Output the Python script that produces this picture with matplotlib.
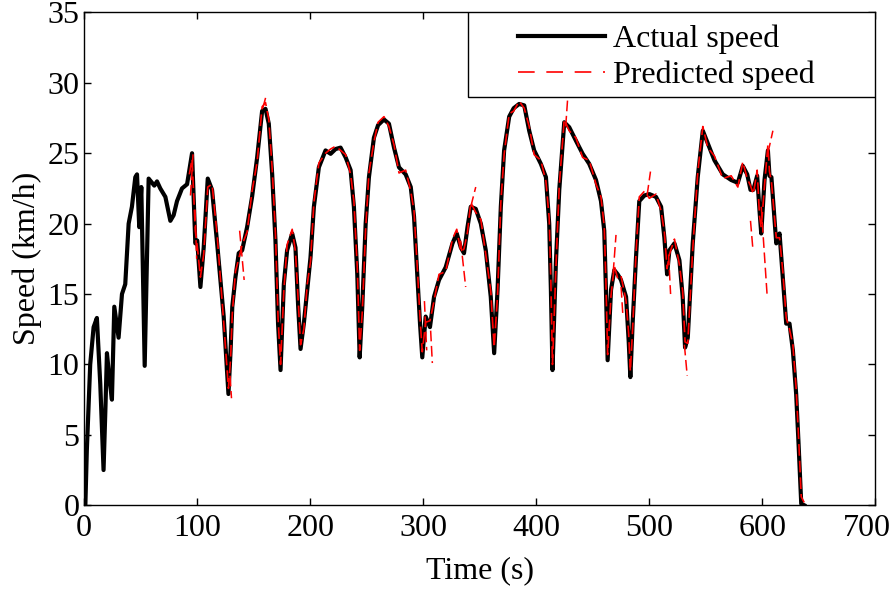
import numpy as np
import matplotlib
matplotlib.use('Agg')
import matplotlib.pyplot as plt
import matplotlib.transforms as mtrans
from matplotlib.patches import Rectangle

plt.rcParams['font.family'] = ['Liberation Serif', 'DejaVu Serif']
plt.rcParams['font.size'] = 23

# actual speed
actual_t = [1, 2.3, 5.3, 8.3, 11.2, 14.2, 17.1, 18.8, 20.1, 22.3, 24.5, 26.6, 28.5, 30.4,
            33.4, 36.3, 39.3, 42.2, 45.2, 46.7, 48.7, 50.5, 53.5, 57, 60, 62, 64.4, 67.3,
            71.8, 76.2, 79.1, 82.1, 86.5, 91, 95.4, 98.3, 100, 102.8, 105.7, 109.3, 113.1,
            117.6, 123.4, 127.6, 129.5, 131, 133.8, 136.7, 139.7, 144.1, 148.5, 153, 157.4,
            160.4, 163.3, 166.3, 169.2, 171.5, 173.7, 176.6, 179.5, 184, 186.9, 189.3, 191.4,
            194.3, 197.3, 200.2, 203.2, 207.6, 213.5, 218, 222.4, 226.8, 231.3, 235.7, 238.6,
            241.6, 243.7, 246, 249, 251.9, 256.3, 260, 265.2, 269.6, 274.1, 278.5, 284.4,
            288.9, 291.8, 294.7, 297.1, 299.1, 302.1, 305.9, 309.5, 313.9, 319.8, 325.8,
            329.6, 333.2, 336, 339.1, 342, 346.4, 350.9, 355.3, 359.7, 362.7, 365.7, 368.6,
            371.5, 376, 380, 384.8, 389.3, 393.7, 398.1, 404, 408.5, 411.4, 412.9, 414.3,
            417.3, 420.3, 424.7, 429.1, 435, 441, 446.8, 452.8, 457.2, 460.1, 461.6, 463.1,
            466.1, 469, 472, 474.9, 479.4, 481.7, 483.2, 485.2, 488.2, 491.1, 495.6, 500,
            505.9, 510.4, 513.3, 515.7, 517.7, 522.2, 526.6, 529.5, 531.6, 534, 538.4, 542.8,
            547.3, 551.7, 557.6, 565, 572.4, 578.3, 582.7, 586.6, 589.5, 592, 595.4, 597.5,
            599, 601.9, 604.9, 606.3, 608, 612.3, 615.2, 618.1, 621.1, 624, 627, 629.9, 632,
            634.4, 637]
actual_v = [0, 3.9, 10, 12.65, 13.3, 8.6, 2.5, 7, 10.8, 9, 7.5, 14.1, 13, 11.9,
            15.0, 15.7, 20.0, 21.2, 23.3, 23.5, 19.75, 22.6, 9.9, 23.2, 22.9, 22.7, 23.0, 22.5,
            21.9, 20.2, 20.6, 21.6, 22.5, 22.8, 25.0, 18.6, 18.8, 15.5, 18.3, 23.2, 22.4,
            18.6, 13.4, 7.9, 11, 14.1, 16.2, 17.9, 18.1, 19.75, 21.9, 24.7, 28.0,
            28.15, 27.1, 23.5, 18.8, 12.9, 9.6, 15.7, 18.1, 19.3, 18.3, 14.1, 11.1,
            12.9, 15.3, 17.6, 21.2, 24.0, 25.2, 24.96, 25.3, 25.4, 24.7, 23.8, 21.2,
            16.4, 10.5, 14.1, 20.0, 23.3, 26.1, 27.0, 27.4, 27.1, 25.4, 24.0, 23.5,
            22.6, 20.5, 16.4, 12.9, 10.5, 13.4, 12.65, 14.8, 16.0, 16.9, 18.6,
            19.3, 18.3, 17.9, 19.75, 21.2, 21.05, 20.0, 18.1, 14.8, 10.8, 15.3, 21.2,
            25.2, 27.6, 28.2, 28.5, 28.4, 26.6, 25.2, 24.25, 23.3, 20.0, 15.3, 9.6,
            17.2, 22.4, 27.2, 26.85, 25.9, 24.96, 24.25, 23.1, 21.6, 19.5, 15.3, 10.3,
            15.3, 16.7, 16.4, 16.0, 14.8, 11.7, 9.1, 12.9, 17.6, 21.6, 22.0, 22.1,
            21.9, 21.2, 19.0, 16.4, 18.1, 18.6, 17.4, 14.8, 11.2, 11.9, 18.6, 23.3,
            26.6, 25.7, 24.5, 23.5, 23.1, 22.9, 24.1, 23.5, 22.4, 22.4, 23.4, 20.9,
            19.3, 23.1, 25.2, 23.4, 23.3, 18.6, 19.3, 16.2, 12.9, 12.9, 11.0, 7.9, 4.4,
            0.1, 0]

# predicted speed
pred_t = [93, 95.4, 98.3, 100, 102.8, 105.7, 109.3, 113.1, 117.6, 123.4, 127.6, 129.5, 131,
          133.8, 136.7, 139.7, 144.1, 148.5, 153, 157.4, 160.4, 163.3, 166.3, 169.2, 171.5,
          173.7, 176.6, 179.5, 184, 186.9, 189.3, 191.4, 194.3, 197.3, 200.2, 203.2, 207.6,
          213.5, 218, 222.4, 226.8, 231.3, 235.7, 238.6, 241.6, 243.7, 246, 249, 251.9,
          256.3, 260, 265.2, 269.6, 274.1, 278.5, 284.4, 288.9, 291.8, 294.7, 297.1, 299.1,
          302.1, 305.9, 309.5, 313.9, 319.8, 325.8, 329.6, 333.2, 336, 339.1, 342, 346.4,
          350.9, 355.3, 359.7, 362.7, 365.7, 368.6, 371.5, 376, 380, 384.8, 389.3, 393.7,
          398.1, 404, 408.5, 411.4, 412.9, 414.3, 417.3, 420.3, 424.7, 429.1, 435, 441,
          446.8, 452.8, 457.2, 460.1, 461.6, 463.1, 466.1, 469, 472, 474.9, 479.4, 481.7,
          483.2, 485.2, 488.2, 491.1, 495.6, 500, 505.9, 510.4, 513.3, 515.7, 517.7, 522.2,
          526.6, 529.5, 531.6, 534, 538.4, 542.8, 547.3, 551.7, 557.6, 565, 572.4, 578.3,
          582.7, 586.6, 589.5, 592, 595.4, 597.5, 599, 601.9, 604.9, 606.3, 608, 612.3,
          615.2, 618.1, 621.1, 624, 627, 629.9, 632, 634.4, 637]
pred_v = [23.5, 24.6, 19.5, 18.4, 16.2, 17.8, 22.6, 22.8, 19.2, 13.0, 8.3, 10.4, 13.6,
          16.6, 17.5, 18.5, 19.4, 22.3, 24.4, 28.3, 28.6, 27.4, 23.9, 19.3, 13.3,
          10.0, 15.2, 18.5, 19.6, 18.0, 14.6, 11.4, 12.5, 15.7, 17.3, 21.5, 24.3,
          25.0, 25.3, 25.5, 25.2, 24.9, 23.5, 21.6, 16.9, 11.0, 13.7, 19.6, 23.6,
          25.8, 27.2, 27.6, 26.9, 25.6, 23.6, 23.8, 22.3, 20.9, 16.9, 13.3, 10.9,
          13.0, 13.1, 14.5, 16.4, 16.6, 18.9, 19.6, 18.0, 18.2, 19.4, 21.5, 20.8,
          20.3, 17.8, 15.2, 11.2, 14.9, 21.5, 24.9, 27.8, 28.0, 28.7, 28.2, 26.9,
          24.9, 24.5, 23.0, 20.4, 15.8, 10.0, 16.8, 22.7, 27.4, 26.6, 26.1, 24.7,
          24.5, 22.8, 21.9, 19.8, 15.8, 10.7, 14.9, 17.0, 16.1, 16.3, 14.5, 12.2,
          9.5, 12.5, 17.9, 21.9, 22.3, 21.8, 22.1, 20.9, 19.4, 16.8, 17.8, 18.9,
          17.1, 15.2, 11.6, 11.5, 18.2, 23.6, 26.9, 25.4, 24.8, 23.2, 23.4, 22.6,
          24.4, 23.2, 22.7, 22.1, 23.8, 20.5, 19.7, 22.7, 25.6, 23.7, 23.0, 19.0,
          19.0, 16.6, 13.3, 12.5, 11.4, 8.3, 4.9, 0.6, 0.2]

# short forecast pieces that stick out from the curve (t0, v0, t1, v1)
seg_t0 = [94, 98, 129, 137.5, 158, 301, 306.5, 333, 342, 426, 468, 475, 498, 517, 531, 589.5, 599, 604.9]
seg_v0 = [22.0, 21.0, 9.2, 19.5, 28.2, 14.5, 12.4, 18.8, 21.2, 26.9, 16.5, 15.5, 22.0, 17.8, 11.4, 20.2, 21.2, 25.0]
seg_t1 = [96.5, 99.5, 130.3, 141.5, 161, 303, 308, 337.5, 346.4, 428, 470.5, 476.5, 501, 518.8, 533.5, 591.6, 604.3, 609.3]
seg_v1 = [25.2, 17.5, 7.6, 16.0, 29.1, 11.0, 10.1, 15.5, 22.6, 29.2, 19.2, 13.6, 23.7, 15.0, 9.2, 18.2, 14.8, 26.6]

fig = plt.figure(figsize=(8.96, 5.93), dpi=100)
ax = fig.add_axes([0.094, 0.148, 0.883, 0.831])

ax.plot(actual_t, actual_v, color='black', lw=3.0, label='Actual speed', solid_joinstyle='round')
ax.plot(pred_t, pred_v, color='red', lw=1.2, dashes=(7, 3), label='Predicted speed')
for i in range(len(seg_t0)):
    ax.plot([seg_t0[i], seg_t1[i]], [seg_v0[i], seg_v1[i]], color='red', lw=1.1, dashes=(7, 3))

ax.set_xlim(0, 700)
ax.set_ylim(0, 35)
ax.set_xticks(np.arange(0, 701, 100))
ax.set_yticks(np.arange(0, 36, 5))
ax.tick_params(direction='in', top=True, right=True, length=5, width=1)
ax.tick_params(axis='x', pad=6)
for s in ax.spines.values():
    s.set_linewidth(1)
ax.set_xlabel('Time (s)', labelpad=10)
ax.set_ylabel('Speed (km/h)', labelpad=4)

# last x tick label pulled in a bit so it stays inside the figure
lbl = ax.get_xticklabels()[-1]
lbl.set_transform(lbl.get_transform() + mtrans.ScaledTranslation(-9 / 100, 0, fig.dpi_scale_trans))

# legend box, MATLAB-like
ax.add_patch(Rectangle((0.4855, 0.8276), 0.5145, 0.1724, transform=ax.transAxes,
                       facecolor='white', edgecolor='black', lw=1, zorder=5))
leg = ax.legend(loc='upper right', bbox_to_anchor=(0.949, 1.018), frameon=False,
                handlelength=2.7, handletextpad=0.25, labelspacing=0.2, borderpad=0.15,
                fontsize=23)
leg.get_lines()[1].set_dashes((10, 7))
leg.set_zorder(6)

fig.savefig('out.png', dpi=100)
